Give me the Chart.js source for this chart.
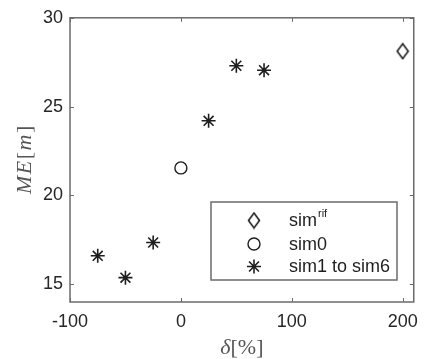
<!DOCTYPE html>
<html>
<head>
<meta charset="UTF-8">
<title>ME vs delta</title>
<script src="https://cdn.jsdelivr.net/npm/chart.js@4.4.0/dist/chart.umd.min.js"></script>
<style>
  html, body { margin: 0; padding: 0; background: #fff; }
</style>
</head>
<body>

<canvas id="myChart" width="427" height="359"></canvas>

<script>
  // values
  let xTicks = [-100, 0, 100, 200];
  let yTicks = [15, 20, 25, 30];
  let rifX = [200];
  let rifY = [28.12];
  let sim0X = [0];
  let sim0Y = [21.55];
  let simX = [-75, -50, -25, 25, 50, 75];
  let simY = [16.6, 15.37, 17.35, 24.2, 27.3, 27.05];
  let legendLabels = ['sim', 'sim0', 'sim1 to sim6'];

  const ink = '#1e1e1e';
  const frame = '#6b6b6b';

  // tall diamond, like the matlab one
  function diamond() {
    const c = document.createElement('canvas');
    c.width = 14; c.height = 18;
    const g = c.getContext('2d');
    g.strokeStyle = ink;
    g.lineWidth = 1.6;
    g.beginPath();
    g.moveTo(7, 1.5); g.lineTo(12.5, 9); g.lineTo(7, 16.5); g.lineTo(1.5, 9); g.closePath();
    g.stroke();
    return c;
  }
  const diamondImg = diamond();

  function pts(xs, ys) {
    return xs.map(function (x, i) { return {x: x, y: ys[i]}; });
  }

  // box, inward ticks, legend and axis titles
  const matlabLook = {
    id: 'matlabLook',
    afterDraw(chart) {
      const ctx = chart.ctx;
      const a = chart.chartArea;
      const sx = chart.scales.x, sy = chart.scales.y;
      ctx.save();
      ctx.strokeStyle = frame;
      ctx.lineWidth = 1.5;
      ctx.strokeRect(a.left, a.top, a.right - a.left, a.bottom - a.top);
      ctx.lineWidth = 1;
      ctx.beginPath();
      xTicks.forEach(function (v) {
        const p = Math.round(sx.getPixelForValue(v)) + 0.5;
        ctx.moveTo(p, a.bottom); ctx.lineTo(p, a.bottom - 4);
        ctx.moveTo(p, a.top); ctx.lineTo(p, a.top + 4);
      });
      yTicks.forEach(function (v) {
        const p = Math.round(sy.getPixelForValue(v)) + 0.5;
        ctx.moveTo(a.left, p); ctx.lineTo(a.left + 4, p);
        ctx.moveTo(a.right, p); ctx.lineTo(a.right - 4, p);
      });
      ctx.stroke();

      // legend
      const lx = 211, ly = 202, lw = 186, lh = 78;
      ctx.fillStyle = '#fff';
      ctx.fillRect(lx, ly, lw, lh);
      ctx.strokeStyle = frame;
      ctx.lineWidth = 1.5;
      ctx.strokeRect(lx, ly, lw, lh);
      const rows = [220.5, 244, 266.5];
      const ds = chart.data.datasets;
      rows.forEach(function (ry, i) {
        const o = ds[i];
        ctx.strokeStyle = ink;
        ctx.lineWidth = o.borderWidth;
        Chart.helpers.drawPoint(ctx, {
          pointStyle: o.pointStyle, radius: o.pointRadius, borderWidth: o.borderWidth, rotation: 0
        }, 254, ry);
      });
      ctx.fillStyle = ink;
      ctx.textBaseline = 'middle';
      ctx.textAlign = 'left';
      ctx.font = '18px "Liberation Sans", Arial, sans-serif';
      rows.forEach(function (ry, i) {
        ctx.fillText(legendLabels[i], 289, ry + 1);
      });
      const w0 = ctx.measureText(legendLabels[0]).width;
      ctx.font = '11px "Liberation Sans", Arial, sans-serif';
      ctx.fillText('rif', 289 + w0 + 1, rows[0] - 7);

      // axis titles
      ctx.fillStyle = '#555';
      ctx.textBaseline = 'alphabetic';
      const it = 'italic 22px "Liberation Serif", "DejaVu Serif", serif';
      const up = '22px "Liberation Serif", "DejaVu Serif", serif';
      function parts(list, gap) {
        let w = 0;
        list.forEach(function (p) { ctx.font = p[1]; w += ctx.measureText(p[0]).width + gap; });
        let x = -(w - gap) / 2;
        list.forEach(function (p) { ctx.font = p[1]; ctx.fillText(p[0], x, 0); x += ctx.measureText(p[0]).width + gap; });
      }
      ctx.save();
      ctx.translate((a.left + a.right) / 2, 354);
      parts([['δ', it], ['[%]', up]], 0);
      ctx.restore();
      ctx.save();
      ctx.translate(31, (a.top + a.bottom) / 2);
      ctx.rotate(-Math.PI / 2);
      parts([['M', it], ['E', it], ['[', up], ['m', it], [']', up]], 1.5);
      ctx.restore();
      ctx.restore();
    }
  };

  new Chart('myChart', {
    type: 'scatter',
    data: {
      datasets: [{
        data: pts(rifX, rifY),
        pointStyle: diamondImg,
        pointRadius: 7,
        borderColor: ink,
        borderWidth: 1.4
      }, {
        data: pts(sim0X, sim0Y),
        pointStyle: 'circle',
        pointRadius: 6,
        borderColor: ink,
        backgroundColor: 'rgba(0,0,0,0)',
        borderWidth: 1.4
      }, {
        data: pts(simX, simY),
        pointStyle: 'star',
        pointRadius: 7,
        borderColor: ink,
        borderWidth: 1.6
      }]
    },
    options: {
      responsive: false,
      animation: false,
      devicePixelRatio: 1,
      layout: { padding: { left: 0, right: 10, top: 14, bottom: 0 } },
      plugins: { legend: { display: false }, tooltip: { enabled: false } },
      scales: {
        x: {
          type: 'linear', min: -100, max: 210,
          afterBuildTicks: function (s) { s.ticks = xTicks.map(function (v) { return {value: v}; }); },
          afterFit: function (s) { s.height = 57; },
          grid: { display: false, drawTicks: false },
          border: { display: false },
          ticks: { color: '#262626', padding: 9, maxRotation: 0, font: { size: 18, family: '"Liberation Sans", Arial, sans-serif' } }
        },
        y: {
          type: 'linear', min: 14, max: 30,
          afterBuildTicks: function (s) { s.ticks = yTicks.map(function (v) { return {value: v}; }); },
          afterFit: function (s) { s.width = 70; },
          grid: { display: false, drawTicks: false },
          border: { display: false },
          ticks: { color: '#262626', padding: 7, font: { size: 18, family: '"Liberation Sans", Arial, sans-serif' } }
        }
      }
    },
    plugins: [matlabLook]
  });
</script>
</body>
</html>
